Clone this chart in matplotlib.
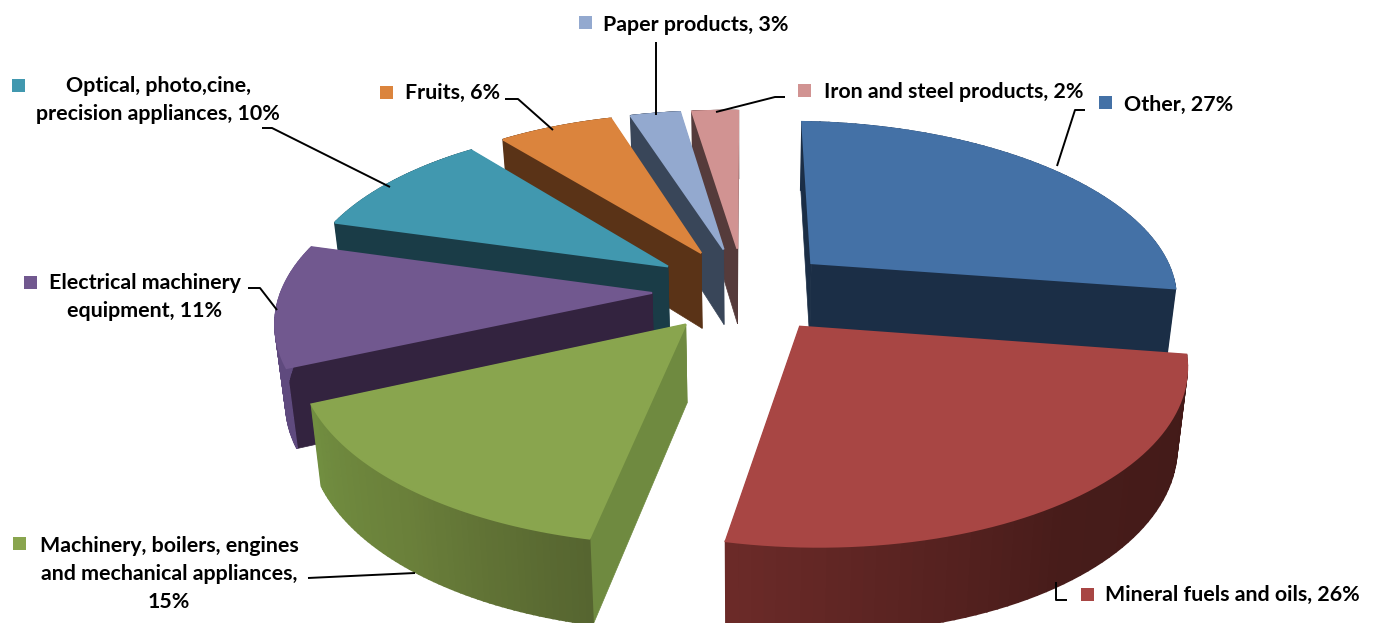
import numpy as np
from matplotlib import pyplot as plt
from matplotlib.colors import LinearSegmentedColormap
from matplotlib.patches import Polygon, Rectangle

categories = ["Other", "Mineral fuels and oils", "Machinery, boilers, engines\nand mechanical appliances",
              "Electrical machinery\nequipment", "Optical, photo,cine,\nprecision appliances", "Fruits",
              "Paper products", "Iron and steel products"]
# the last two print as 3% and 2%, slice widths say about 2.6 and 2.4
values = [27, 26, 15, 11, 10, 6, 2.6, 2.4]
separators = [", ", ", ", ",\n", ", ", ", ", ", ", ", ", ", "]

top_colors = ["#4471a6", "#a84644", "#89a54e", "#71588f", "#4198af", "#db843d", "#93a9cf", "#d19392"]
wall_colors = ["#1b2e46", "#471c1a", "#6f8a40", "#33233f", "#1a3c47", "#5a3317", "#394659", "#553b3b"]
rim_colors = [["#1b2e46", "#1b2e46"], ["#421a18", "#471c1a", "#6b2a28"], ["#566530", "#6a7f3a", "#718e40"],
              ["#5f4a7e", "#5f4a7e"], ["#1a3c47", "#1a3c47"], ["#5a3317", "#5a3317"],
              ["#394659", "#394659"], ["#553b3b", "#553b3b"]]

# label layout: text anchor (x, first line y), align, legend key (x, y), leader line
label_pos = [(1124, 105, "left"), (1105, 595, "left"), (169, 546, "center"), (145, 283, "center"),
             (158, 86, "center"), (405, 93, "left"), (603, 25, "left"), (824, 92, "left")]
key_pos = [(1105, 102), (1087, 594), (19, 543), (30, 282), (18, 85), (386, 92), (585, 22), (804, 90)]
leaders = [[(1057, 166), (1075, 110), (1085, 110)],
           [(1056, 582), (1056, 600), (1067, 600)],
           [(415, 573), (308, 578)],
           [(248, 288), (260, 288), (277, 310)],
           [(262, 128), (272, 128), (390, 187)],
           [(505, 99), (518, 99), (553, 130)],
           [(656, 42), (656, 115)],
           [(785, 97), (775, 97), (716, 112)]]

CX, CY = 744, 290
RX, RY = 368, 172
PERSP = 0.16
TILT = 4.5
EXPLODE = 0.25
DEPTH = 77
BOTTOM_SCALE = 0.977


def project(u, v, bottom=False):
    s = 1 / (1 + PERSP * v)
    x = CX + RX * u * s
    y = CY - RY * v * s + TILT * u
    if bottom:
        x = CX + (x - CX) * BOTTOM_SCALE
        y = y + DEPTH * (1 - 0.1 * v)
    return x, y


fig = plt.figure(figsize=(13.76, 6.23), dpi=100)
ax = fig.add_axes([0, 0, 1, 1])
ax.set_xlim(0, 1376)
ax.set_ylim(623, 0)
ax.axis("off")

# slice angles, clockwise from 12 o'clock
fractions = np.array(values) / sum(values)
ends = np.cumsum(fractions) * 2 * np.pi
starts = ends - fractions * 2 * np.pi
mids = (starts + ends) / 2

# back slices first, front ones paint over them
order = np.argsort(-np.cos(mids))
for i in order:
    ou = EXPLODE * np.sin(mids[i])
    ov = EXPLODE * np.cos(mids[i])
    theta = np.linspace(starts[i], ends[i], 60)
    u = ou + np.sin(theta)
    v = ov + np.cos(theta)
    zorder = 10 + list(order).index(i)

    for a in (starts[i], ends[i]):
        wu = ou + np.sin(a)
        wv = ov + np.cos(a)
        wall = [project(ou, ov), project(wu, wv), project(wu, wv, True), project(ou, ov, True)]
        ax.add_patch(Polygon(wall, closed=True, fc=wall_colors[i], ec=wall_colors[i], lw=0.5, zorder=zorder))

    cmap = LinearSegmentedColormap.from_list("rim", rim_colors[i])
    for k in range(len(theta) - 1):
        quad = [project(u[k], v[k]), project(u[k + 1], v[k + 1]),
                project(u[k + 1], v[k + 1], True), project(u[k], v[k], True)]
        c = cmap(k / (len(theta) - 2))
        ax.add_patch(Polygon(quad, closed=True, fc=c, ec=c, lw=1.3, zorder=zorder))

    # thick edge hides the stroke of the rim quads along the back arc
    top = [project(ou, ov)] + [project(a, b) for a, b in zip(u, v)]
    ax.add_patch(Polygon(top, closed=True, fc=top_colors[i], ec=top_colors[i], lw=1.4, zorder=zorder))

for i, name in enumerate(categories):
    lines = (name + separators[i] + f"{values[i]:.0f}%").split("\n")
    x, y, align = label_pos[i]
    for n, line in enumerate(lines):
        ax.text(x, y + n * 28, line, ha=align, va="center", family="Lato", weight="bold",
                fontsize=15.4, color="black", zorder=40)
    kx, ky = key_pos[i]
    ax.add_patch(Rectangle((kx - 6.5, ky - 6.5), 13, 13, fc=top_colors[i], ec="none", zorder=40))
    ax.plot(*zip(*leaders[i]), color="black", lw=1.4, zorder=41, solid_capstyle="butt")

fig.savefig("out.png", dpi=100)
